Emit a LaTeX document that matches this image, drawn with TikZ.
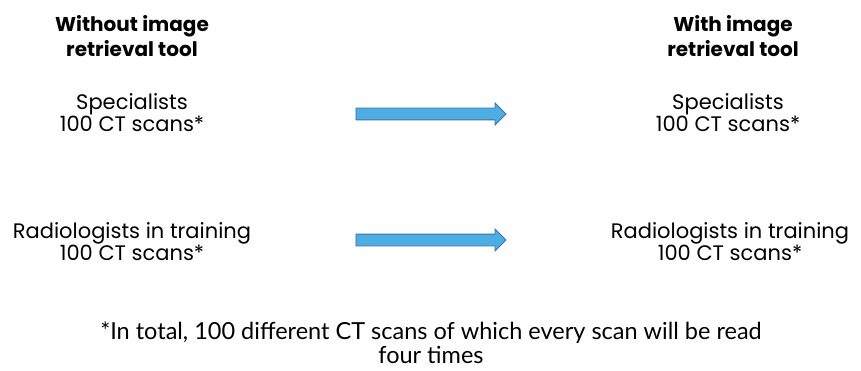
\documentclass[tikz,border=0pt]{standalone}
\usepackage{fontspec}
\setmainfont{Poppins}
\newfontfamily\notefont{Lato}
\usetikzlibrary{shapes.arrows}
\definecolor{arrowfill}{RGB}{78,173,226}
\definecolor{arrowline}{RGB}{66,114,160}
\tikzset{
    head/.style={align=center,font=\fontsize{20}{25}\selectfont\bfseries},
    group/.style={align=center,font=\fontsize{21}{22}\selectfont},
    note/.style={align=center,font=\notefont\fontsize{23.5}{24}\selectfont},
    bigarrow/.style={single arrow,draw=arrowline,fill=arrowfill,line width=0.8pt,
        minimum height=150pt,inner xsep=0pt,inner ysep=5.5pt,text height=0pt,text depth=0pt,
        single arrow head extend=5pt,single arrow tip angle=90,single arrow head indent=0pt}
}
\begin{document}
\begin{tikzpicture}[x=1pt,y=1pt]
\useasboundingbox (0,0) rectangle (861,370);
\node[head] (without) at (132,334) {Without image\\retrieval tool};
\node[head] (with) at (733,334) {With image\\retrieval tool};
\node[group] (specA) at (132,257) {Specialists\\100 CT scans*};
\node[group] (specB) at (728,257) {Specialists\\100 CT scans*};
\node[group] (radA) at (132,128) {Radiologists in training\\100 CT scans*};
\node[group] (radB) at (730,128) {Radiologists in training\\100 CT scans*};
\node[bigarrow] (arrowspec) at (428,256) {};
\node[bigarrow] (arrowrad) at (428,130) {};
\node[note] (footnote) at (431,27) {*In total, 100 different CT scans of which every scan will be read\\four times};
\end{tikzpicture}
\end{document}
